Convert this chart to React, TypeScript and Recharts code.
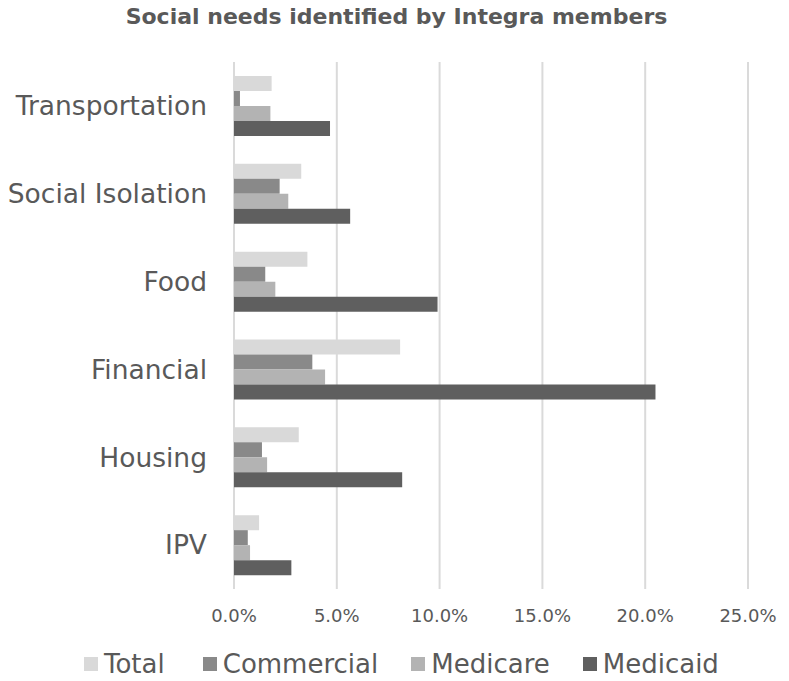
import React from "react";
import { BarChart, Bar, XAxis, YAxis, CartesianGrid } from "recharts";

const categories = ["Transportation", "Social Isolation", "Food", "Financial", "Housing", "IPV"];
const totalValues = [1.83, 3.27, 3.57, 8.08, 3.15, 1.22];
const commercialValues = [0.29, 2.22, 1.52, 3.81, 1.36, 0.67];
const medicareValues = [1.77, 2.64, 2.01, 4.43, 1.61, 0.78];
const medicaidValues = [4.67, 5.65, 9.9, 20.5, 8.18, 2.79];
const xTicks = [0, 5, 10, 15, 20, 25];

const seriesNames = ["Total", "Commercial", "Medicare", "Medicaid"];
const seriesColors = ["#d9d9d9", "#898989", "#b3b3b3", "#5f5f5f"];
const seriesKeys = ["total", "commercial", "medicare", "medicaid"];
const legendGaps = [38, 33, 33, 0];

const data = categories.map((name, i) => ({
  name,
  total: totalValues[i],
  commercial: commercialValues[i],
  medicare: medicareValues[i],
  medicaid: medicaidValues[i],
}));

const FONT = "'DejaVu Sans', Verdana, sans-serif";
const TEXT = "#595959";

export default function App() {
  return (
    <div style={{ position: "absolute", left: 0, top: 0, width: 789, height: 681, background: "#fff", fontFamily: FONT }}>
      <div
        style={{
          position: "absolute",
          left: 2,
          top: 4,
          width: 789,
          textAlign: "center",
          fontWeight: "bold",
          fontSize: 22,
          color: TEXT,
        }}
      >
        Social needs identified by Integra members
      </div>
      <BarChart
        width={789}
        height={681}
        data={data}
        layout="vertical"
        margin={{ top: 62, right: 41, bottom: 62, left: 0 }}
        barGap={0}
        barSize={15}
      >
        <CartesianGrid horizontal={false} vertical={true} stroke="#dadada" strokeWidth={2} />
        <XAxis
          type="number"
          domain={[0, 25]}
          ticks={xTicks}
          axisLine={false}
          tickLine={false}
          tickSize={0}
          tickMargin={20}
          height={30}
          tickFormatter={(v: number) => v.toFixed(1) + "%"}
          tick={{ fill: TEXT, fontSize: 18, fontFamily: FONT }}
          interval={0}
        />
        <YAxis
          type="category"
          dataKey="name"
          width={234}
          axisLine={false}
          tickLine={false}
          tickSize={0}
          tickMargin={27}
          tick={{ fill: TEXT, fontSize: 26.5, fontFamily: FONT }}
          interval={0}
        />
        {seriesKeys.map((k, i) => (
          <Bar key={k} dataKey={k} name={seriesNames[i]} fill={seriesColors[i]} isAnimationActive={false} />
        ))}
      </BarChart>
      <div
        style={{
          position: "absolute",
          left: 84,
          top: 648,
          display: "flex",
          alignItems: "center",
          fontSize: 26,
          color: TEXT,
          lineHeight: "32px",
        }}
      >
        {seriesNames.map((n, i) => (
          <div key={n} style={{ display: "flex", alignItems: "center", marginRight: legendGaps[i] }}>
            <span style={{ display: "inline-block", width: 14, height: 14, background: seriesColors[i], marginRight: 6 }} />
            <span>{n}</span>
          </div>
        ))}
      </div>
    </div>
  );
}
